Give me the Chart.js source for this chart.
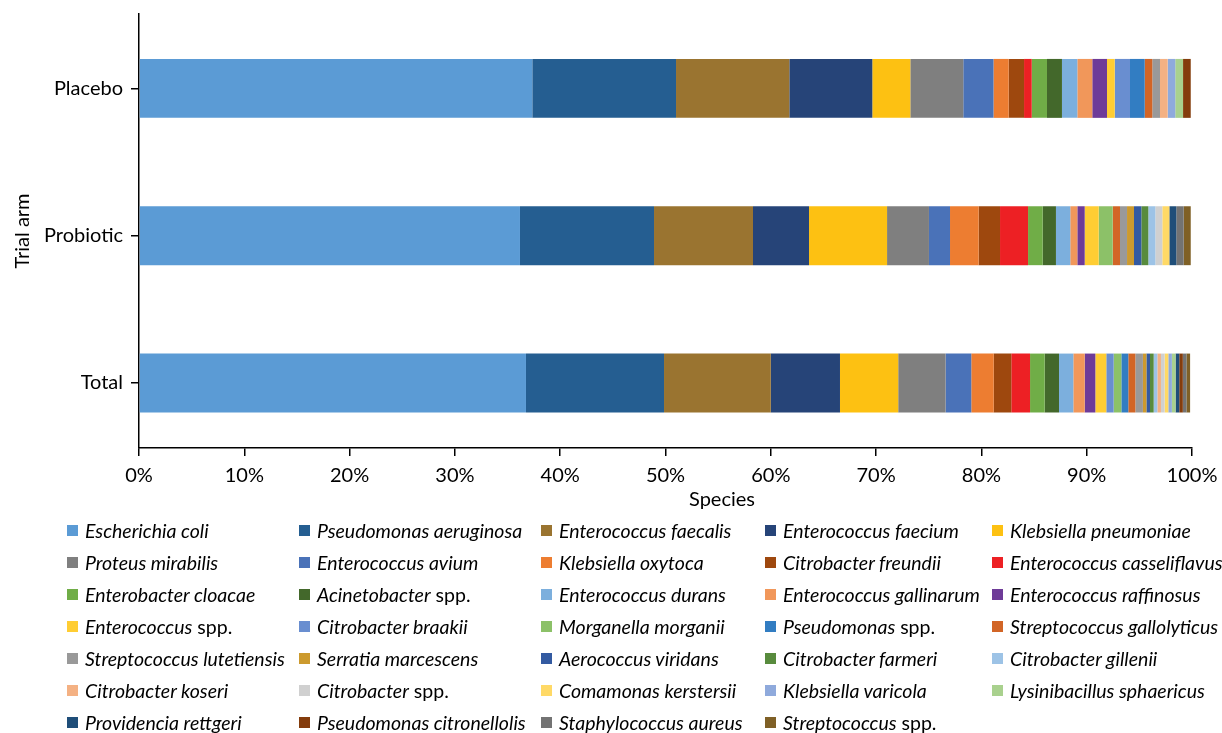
<!DOCTYPE html>
<html><head><meta charset="utf-8">
<script src="https://cdn.jsdelivr.net/npm/chart.js@4"></script>
<style>
html,body{margin:0;padding:0;background:#fff;}
body{width:1222px;height:733px;position:relative;overflow:hidden;font-family:Lato,sans-serif;}
#wrap{position:absolute;left:0;top:0;width:1222px;height:515px;}
#legend{position:absolute;left:67px;top:514px;display:grid;grid-template-columns:232px 242px 224px 227px 230px;grid-auto-rows:32.1px;font-size:19.5px;color:#000;}
.item{display:flex;align-items:center;white-space:nowrap;}
.sw{width:11px;height:11px;margin-right:7px;flex:none;}
.it{font-style:italic;}
</style></head><body>
<div id="wrap"><canvas id="c"></canvas></div>
<div id="legend"></div>
<script>
const categories = ['Placebo', 'Probiotic', 'Total'];
const xTickLabels = ['0%','10%','20%','30%','40%','50%','60%','70%','80%','90%','100%'];
const species = [
  'Escherichia coli','Pseudomonas aeruginosa','Enterococcus faecalis','Enterococcus faecium','Klebsiella pneumoniae',
  'Proteus mirabilis','Enterococcus avium','Klebsiella oxytoca','Citrobacter freundii','Enterococcus casseliflavus',
  'Enterobacter cloacae','Acinetobacter spp.','Enterococcus durans','Enterococcus gallinarum','Enterococcus raffinosus',
  'Enterococcus spp.','Citrobacter braakii','Morganella morganii','Pseudomonas spp.','Streptococcus gallolyticus',
  'Streptococcus lutetiensis','Serratia marcescens','Aerococcus viridans','Citrobacter farmeri','Citrobacter gillenii',
  'Citrobacter koseri','Citrobacter spp.','Comamonas kerstersii','Klebsiella varicola','Lysinibacillus sphaericus',
  'Providencia rettgeri','Pseudomonas citronellolis','Staphylococcus aureus','Streptococcus spp.'
];
const colors = [
  '#5B9BD5','#255E91','#9A7430','#264478','#FDC112',
  '#7F7F7F','#4A72B8','#ED7D31','#9E480E','#ED2024',
  '#70AD47','#43682B','#7CAFDD','#F1975A','#6E3B98',
  '#FFCD33','#698ED0','#8CC168','#327DC2','#D26526',
  '#999999','#CC9A2E','#335AA1','#588B3D','#9DC3E6',
  '#F4B183','#D0D0D0','#FFD966','#8FAADC','#A9D18E',
  '#1F4E79','#843C0C','#737373','#7F6026'
];
const placebo = [
  37.35,13.65,10.76,7.88,3.61, 5.03,2.87,1.44,1.46,0.73,
  1.45,1.42,1.46,1.42,1.40, 0.73,1.45,0,1.40,0.72,
  0.73,0,0,0,0, 0.73,0,0,0.72,0.74, 0,0.73,0,0
];
const probiotic = [
  36.18,12.73,9.40,5.32,7.41, 3.98,2.00,2.72,2.03,2.66,
  1.39,1.26,1.36,0.67,0.70, 1.33,0,1.33,0,0.69,
  0.67,0.66,0.70,0.66,0.67, 0,0.66,0.67,0,0, 0.66,0,0.70,0.67
];
const total = [
  36.75,13.11,10.14,6.57,5.53, 4.50,2.44,2.13,1.67,1.78,
  1.39,1.36,1.36,1.08,1.01, 1.04,0.70,0.73,0.66,0.67,
  0.72,0.33,0.34,0.35,0.35, 0.34,0.35,0.35,0.34,0.35, 0.35,0.34,0.34,0.35
];

const datasets = species.map((name, i) => ({
  label: name,
  data: [placebo[i], probiotic[i], total[i]].map((v, k) => ({x: v, y: k})),
  backgroundColor: colors[i],
  borderWidth: 0,
  stack: 's',
  barPercentage: 0.4,
  categoryPercentage: 1.0
}));

const speciesTitle = {
  id: 'speciesTitle',
  afterDraw(chart) {
    const ctx = chart.ctx;
    ctx.save();
    ctx.font = '20px Lato';
    ctx.fillStyle = '#000';
    ctx.textAlign = 'center';
    ctx.textBaseline = 'middle';
    ctx.fillText('Species', 722, 500);
    ctx.restore();
  }
};

new Chart(document.getElementById('c'), {
  type: 'bar',
  data: { datasets },
  plugins: [speciesTitle],
  options: {
    indexAxis: 'y',
    responsive: true,
    maintainAspectRatio: false,
    animation: false,
    devicePixelRatio: 1,
    layout: { padding: { top: 14, right: 30, left: 0, bottom: 0 } },
    plugins: { legend: { display: false }, tooltip: { enabled: false } },
    scales: {
      x: {
        type: 'linear', stacked: true, min: 0, max: 100,
        afterFit(s) { s.height = 67; s.paddingLeft = 0; s.paddingRight = 0; },
        afterBuildTicks(s) { s.ticks = xTickLabels.map((_, i) => ({ value: i * 10 })); },
        ticks: { color: '#000', font: { family: 'Lato', size: 20 }, padding: 8, maxRotation: 0,
                 callback: (v, i) => xTickLabels[i] },
        grid: { drawOnChartArea: false, drawTicks: true, tickLength: 8, color: '#000', lineWidth: 1.5 },
        border: { display: true, color: '#000', width: 1.5 },
        title: { display: false }
      },
      y: {
        type: 'linear', reverse: true, min: -0.505, max: 2.441, offset: false, bounds: 'data',
        afterFit(s) { s.width = 139; s.paddingTop = 0; s.paddingBottom = 0; },
        afterBuildTicks(s) { s.ticks = categories.map((_, i) => ({ value: i })); },
        ticks: { color: '#000', font: { family: 'Lato', size: 20 }, padding: 8,
                 callback: (v) => categories[v] },
        grid: { offset: false, drawOnChartArea: false, drawTicks: true, tickLength: 8, color: '#000', lineWidth: 1.5 },
        border: { display: true, color: '#000', width: 1.5 },
        title: { display: true, text: 'Trial arm', color: '#000', font: { family: 'Lato', size: 20 }, padding: { top: 11, bottom: 0 } }
      }
    }
  }
});

const legend = document.getElementById('legend');
species.forEach((name, i) => {
  const item = document.createElement('div');
  item.className = 'item';
  const sw = document.createElement('span');
  sw.className = 'sw';
  sw.style.background = colors[i];
  item.appendChild(sw);
  const txt = document.createElement('span');
  if (name.endsWith(' spp.')) {
    const it = document.createElement('span');
    it.className = 'it';
    it.textContent = name.slice(0, -5);
    txt.appendChild(it);
    txt.appendChild(document.createTextNode(' spp.'));
  } else {
    txt.className = 'it';
    txt.textContent = name;
  }
  item.appendChild(txt);
  legend.appendChild(item);
});
</script>
</body></html>
